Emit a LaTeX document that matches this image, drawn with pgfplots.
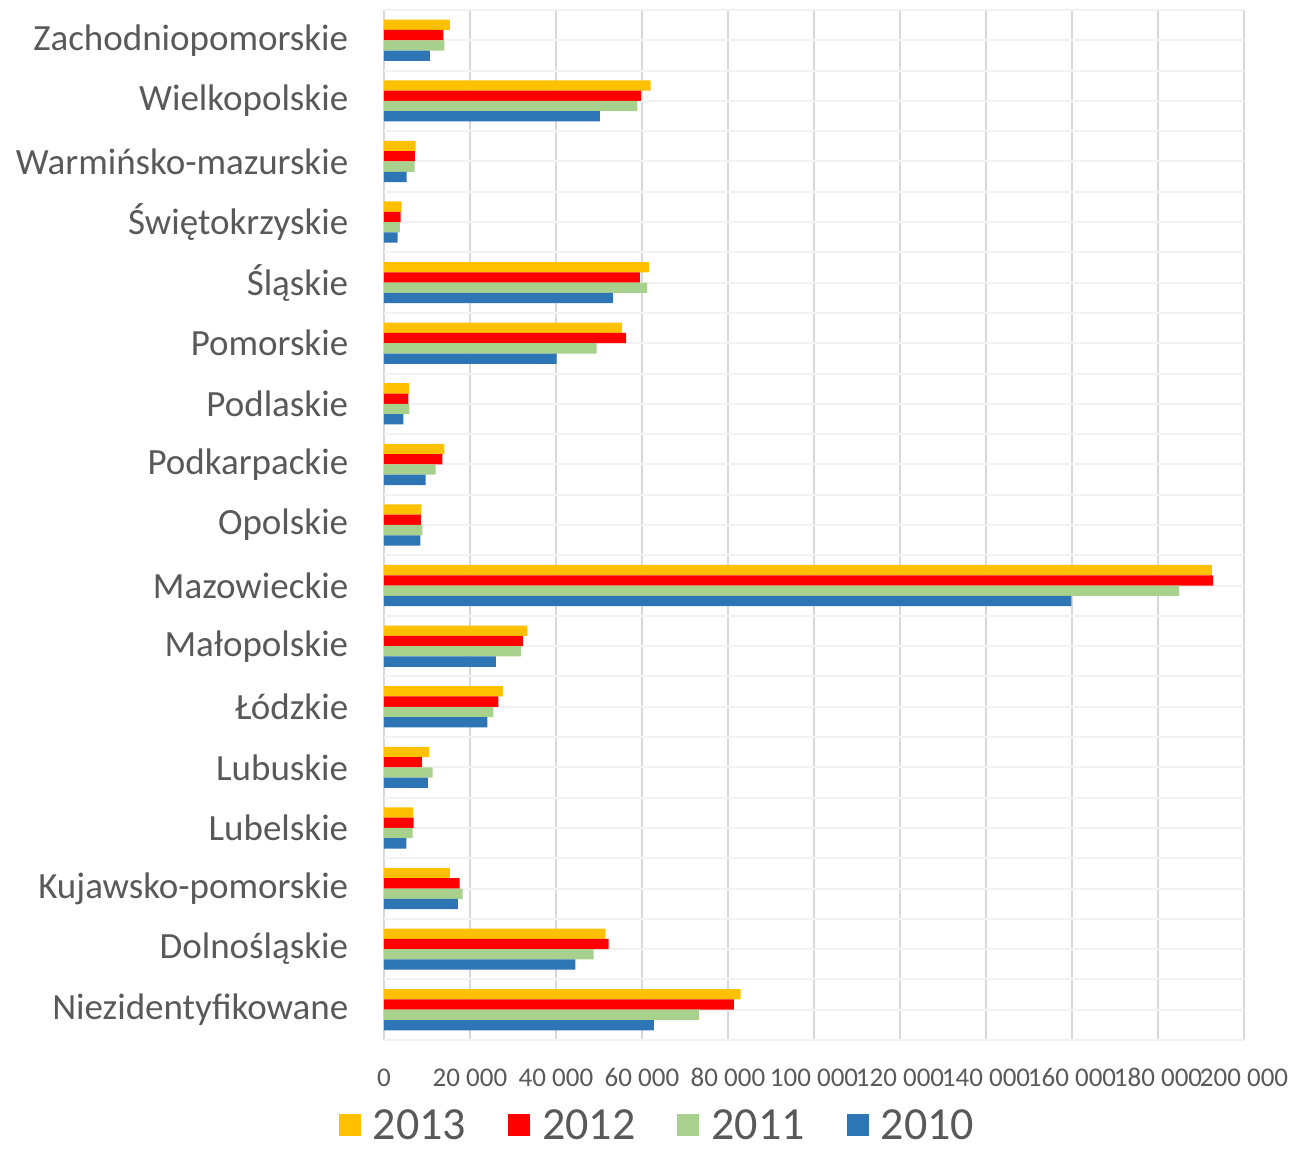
\documentclass[border=0pt]{standalone}
\usepackage{pgfplots}
\usepackage{pgfplotstable}
\usepackage{fontspec}
\setmainfont{Carlito}
\pgfplotsset{compat=1.18}
\definecolor{c2013}{HTML}{FFC000}
\definecolor{c2012}{HTML}{FF0000}
\definecolor{c2011}{HTML}{A9D18E}
\definecolor{c2010}{HTML}{2E75B6}
\definecolor{txt}{HTML}{595959}
\definecolor{vgrid}{HTML}{D9D9D9}
\definecolor{hgrid}{HTML}{F2F2F2}
\pgfplotstableread{
y z2013 z2012 z2011 z2010
0 82925 81375 73240 62775
1 51460 52235 48750 44485
2 15345 17590 18290 17200
3 6740 6900 6665 5190
4 10460 8835 11315 10230
5 27670 26580 25420 24030
6 33330 32270 31870 26000
7 192500 192800 184900 159870
8 8680 8600 8910 8450
9 14030 13560 12010 9690
10 5800 5660 5890 4500
11 55400 56300 49450 40150
12 61600 59500 61200 53240
13 4100 3875 3720 3180
14 7360 7200 7130 5270
15 62000 59750 58900 50220
16 15345 13795 14030 10695
}\datatable
\begin{document}
\begin{tikzpicture}
\begin{axis}[
  at={(0pt,0pt)}, anchor=south west,
  scale only axis, width=860pt, height=1030pt,
  xbar, bar width=10.3pt,
  xmin=0, xmax=200000,
  ymin=-0.5, ymax=16.5,
  scaled x ticks=false,
  axis line style={draw=none},
  tick style={draw=none},
  xtick={0,20000,...,200000},
  xticklabels={0,20 000,40 000,60 000,80 000,100 000,120 000,140 000,160 000,180 000,200 000},
  xticklabel style={font=\fontsize{27}{30}\selectfont, text=txt, anchor=base, yshift=-46pt},
  ytick={0,...,16},
  yticklabels={Niezidentyfikowane,Dolnośląskie,Kujawsko-pomorskie,Lubelskie,Lubuskie,Łódzkie,Małopolskie,Mazowieckie,Opolskie,Podkarpackie,Podlaskie,Pomorskie,Śląskie,Świętokrzyskie,Warmińsko-mazurskie,Wielkopolskie,Zachodniopomorskie},
  yticklabel style={font=\fontsize{37}{42}\selectfont, text=txt, anchor=east, xshift=-28pt},
  minor ytick={-0.5,0.5,...,16.5},
  xmajorgrids, major x grid style={vgrid, line width=2.5pt},
  ymajorgrids, major y grid style={hgrid, line width=2pt},
  yminorgrids, minor y grid style={hgrid, line width=2pt},
  legend columns=4,
  legend style={draw=none, fill=none, at={(0.318,-0.083)}, anchor=center,
    font=\fontsize{46}{50}\selectfont, text=txt, inner sep=0pt,
    /tikz/every odd column/.append style={column sep=10pt},
    /tikz/every even column/.append style={column sep=40pt}},
  legend image code/.code={\fill[#1] (0pt,-11pt) rectangle (22pt,11pt);},
]
\addplot[fill=c2013, draw=none, bar shift=15.45pt] table[x=z2013, y=y] {\datatable};
\addplot[fill=c2012, draw=none, bar shift=5.15pt] table[x=z2012, y=y] {\datatable};
\addplot[fill=c2011, draw=none, bar shift=-5.15pt] table[x=z2011, y=y] {\datatable};
\addplot[fill=c2010, draw=none, bar shift=-15.45pt] table[x=z2010, y=y] {\datatable};
\legend{2013,2012,2011,2010}
\end{axis}
\path[use as bounding box] (-384pt,-108pt) rectangle (911pt,1040pt);
\end{tikzpicture}
\end{document}
